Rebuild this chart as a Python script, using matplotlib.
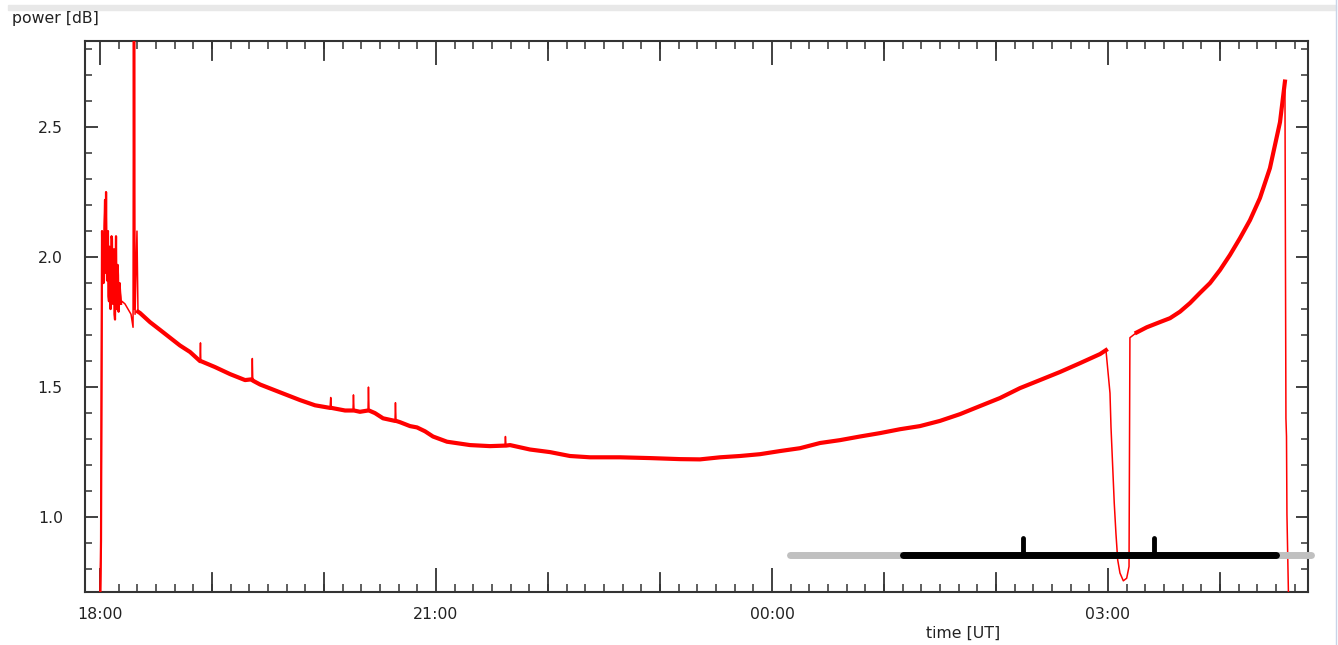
import numpy as np
import matplotlib.pyplot as plt
from matplotlib.ticker import MultipleLocator, FuncFormatter

# time in hours after 18:00 UT, power in dB
hours = [0.000, 0.009, 0.018, 0.022, 0.027, 0.031, 0.036, 0.040, 0.045, 0.049,
         0.054, 0.058, 0.063, 0.067, 0.071, 0.076, 0.080, 0.085, 0.089, 0.094,
         0.098, 0.103, 0.107, 0.112, 0.116, 0.121, 0.125, 0.130, 0.134, 0.139,
         0.143, 0.148, 0.152, 0.157, 0.161, 0.166, 0.170, 0.175, 0.179, 0.188,
         0.196, 0.223, 0.250, 0.277, 0.295, 0.299, 0.304, 0.308, 0.313,
         0.330, 0.339, 0.357, 0.446, 0.536, 0.625, 0.714, 0.804, 0.893, 0.897,
         0.900, 1.027, 1.161, 1.295, 1.357, 1.360, 1.364, 1.429, 1.607, 1.786,
         1.920, 2.054, 2.060, 2.066, 2.188, 2.259, 2.263, 2.268, 2.321, 2.393,
         2.397, 2.402, 2.455, 2.527, 2.634, 2.638, 2.643, 2.679, 2.768, 2.830,
         2.902, 2.973, 3.098, 3.304, 3.482, 3.616, 3.620, 3.625, 3.661, 3.839,
         4.018, 4.196, 4.375, 4.643, 4.911, 5.179, 5.357, 5.536, 5.714, 5.893,
         6.071, 6.250, 6.429, 6.607, 6.786, 6.964, 7.143, 7.321, 7.500, 7.679,
         7.857, 8.036, 8.214, 8.393, 8.571, 8.750, 8.929, 8.982, 8.996, 9.018,
         9.027, 9.042, 9.056, 9.071, 9.087, 9.107, 9.137, 9.167, 9.188, 9.196,
         9.256, 9.346, 9.464, 9.554, 9.643, 9.732, 9.821, 9.911, 10.000, 10.089,
         10.179, 10.268, 10.357, 10.446, 10.536, 10.580, 10.589, 10.594, 10.598, 10.616]
power = [0.60, 0.91, 2.10, 1.96, 2.08, 1.90, 1.95, 2.12, 2.22, 1.94,
         2.25, 2.00, 1.91, 2.06, 2.10, 1.85, 1.83, 2.04, 2.03, 1.80,
         1.87, 2.08, 2.07, 1.86, 1.82, 1.98, 2.03, 1.78, 1.76, 1.95,
         2.08, 1.80, 1.83, 1.97, 1.93, 1.79, 1.85, 1.90, 1.87, 1.82,
         1.83, 1.82, 1.80, 1.78, 1.73, 2.95, 1.80, 2.90, 1.78,
         2.10, 1.79, 1.785, 1.75, 1.72, 1.69, 1.66, 1.635, 1.60, 1.67,
         1.60, 1.577, 1.55, 1.527, 1.53, 1.61, 1.525, 1.51, 1.48, 1.45,
         1.43, 1.42, 1.46, 1.42, 1.41, 1.41, 1.47, 1.41, 1.405, 1.41,
         1.50, 1.41, 1.40, 1.38, 1.37, 1.44, 1.37, 1.365, 1.35, 1.345,
         1.33, 1.31, 1.29, 1.277, 1.273, 1.275, 1.31, 1.275, 1.277, 1.26,
         1.25, 1.235, 1.23, 1.23, 1.227, 1.223, 1.222, 1.23, 1.235, 1.242,
         1.254, 1.265, 1.285, 1.296, 1.31, 1.323, 1.338, 1.35, 1.37, 1.396,
         1.427, 1.458, 1.496, 1.527, 1.558, 1.592, 1.627, 1.642, 1.578, 1.477,
         1.346, 1.19, 1.054, 0.938, 0.835, 0.785, 0.755, 0.765, 0.81, 1.69,
         1.71, 1.73, 1.75, 1.765, 1.79, 1.823, 1.862, 1.90, 1.95, 2.008,
         2.073, 2.142, 2.227, 2.342, 2.519, 2.675, 1.38, 1.31, 1.01, 0.60]

# availability bar at the bottom
bar_level = 0.854
gray_span = [6.16, 10.81]
black_span = [7.17, 10.50]
marks = [8.24, 9.41]
mark_top = 0.92

hours = np.array(hours)
power = np.array(power)

fig = plt.figure(figsize=(13.38, 6.45), dpi=100)
ax = fig.add_axes([85/1338, 53/645, 1223/1338, 551/645])

# thin raw trace
ax.plot(hours, power, color='#ff0000', lw=1.1, zorder=3)
# thicker noise band where the signal varies slowly (isolated spikes left thin)
spike = np.zeros(len(power), dtype=bool)
spike[1:-1] = (power[1:-1] > power[:-2] + 0.02) & (power[1:-1] > power[2:] + 0.02)
for lo, hi in [(0.33, 8.99), (9.25, 10.585)]:
    seg = (hours > lo) & (hours < hi)
    seg[1:-1] &= ~spike[1:-1] | ~(seg[:-2] & seg[2:])
    ax.plot(hours[seg], power[seg], color='#ff0000', lw=3.0, zorder=3)
# the noisy start
start = hours < 0.19
ax.plot(hours[start], power[start], color='#ff0000', lw=1.6, zorder=3)

ax.plot(gray_span, [bar_level, bar_level], color='#c0c0c0', lw=5, solid_capstyle='round', zorder=4, clip_on=False)
ax.plot(black_span, [bar_level, bar_level], color='black', lw=5, solid_capstyle='round', zorder=5)
for m in marks:
    ax.plot([m, m], [bar_level, mark_top], color='black', lw=3.5, solid_capstyle='round', zorder=5)

ax.set_xlim(-0.134, 10.786)
ax.set_ylim(0.712, 2.831)

ax.xaxis.set_major_locator(MultipleLocator(3))
ax.xaxis.set_minor_locator(MultipleLocator(1/6))
ax.xaxis.set_major_formatter(FuncFormatter(lambda v, p: '%02d:00' % ((18 + int(round(v))) % 24)))
ax.yaxis.set_major_locator(MultipleLocator(0.5))
ax.yaxis.set_minor_locator(MultipleLocator(0.1))
ax.yaxis.set_major_formatter(FuncFormatter(lambda v, p: '%.1f' % v))

ax.tick_params(which='both', direction='in', top=True, right=True, color='#333333',
               labelsize=11.3, labelcolor='#222222')
ax.tick_params(axis='x', which='major', length=17, width=1.3, pad=11)
ax.tick_params(axis='x', which='minor', length=5.5, width=1.1)
ax.tick_params(axis='y', which='major', length=9, width=1.3, pad=16)
ax.tick_params(axis='y', which='minor', length=5, width=1.1)
# hour ticks, a bit shorter than the labelled ones
for hr in range(0, 11):
    if hr % 3:
        ax.plot([hr, hr], [0, 0.034], transform=ax.get_xaxis_transform(), color='#333333', lw=1.3, clip_on=False)
        ax.plot([hr, hr], [1, 1 - 0.034], transform=ax.get_xaxis_transform(), color='#333333', lw=1.3, clip_on=False)

for s in ax.spines.values():
    s.set_color('#333333')
    s.set_linewidth(1.5)

fig.text(12/1338, 1 - 19/645, 'power [dB]', fontsize=11.3, color='#222222', va='center', ha='left')
fig.text(963/1338, 1 - 633/645, 'time [UT]', fontsize=11.3, color='#222222', va='center', ha='center')

# window frame bits
fig.patches.append(plt.Rectangle((8/1338, 1 - 10/645), 1328/1338, 5/645, transform=fig.transFigure,
                                 color='#e8e8e8', zorder=0))
fig.lines.append(plt.Line2D([1336/1338, 1336/1338], [0, 1], transform=fig.transFigure, color='#c8d4e8', lw=1))

fig.savefig('out.png', dpi=100)
